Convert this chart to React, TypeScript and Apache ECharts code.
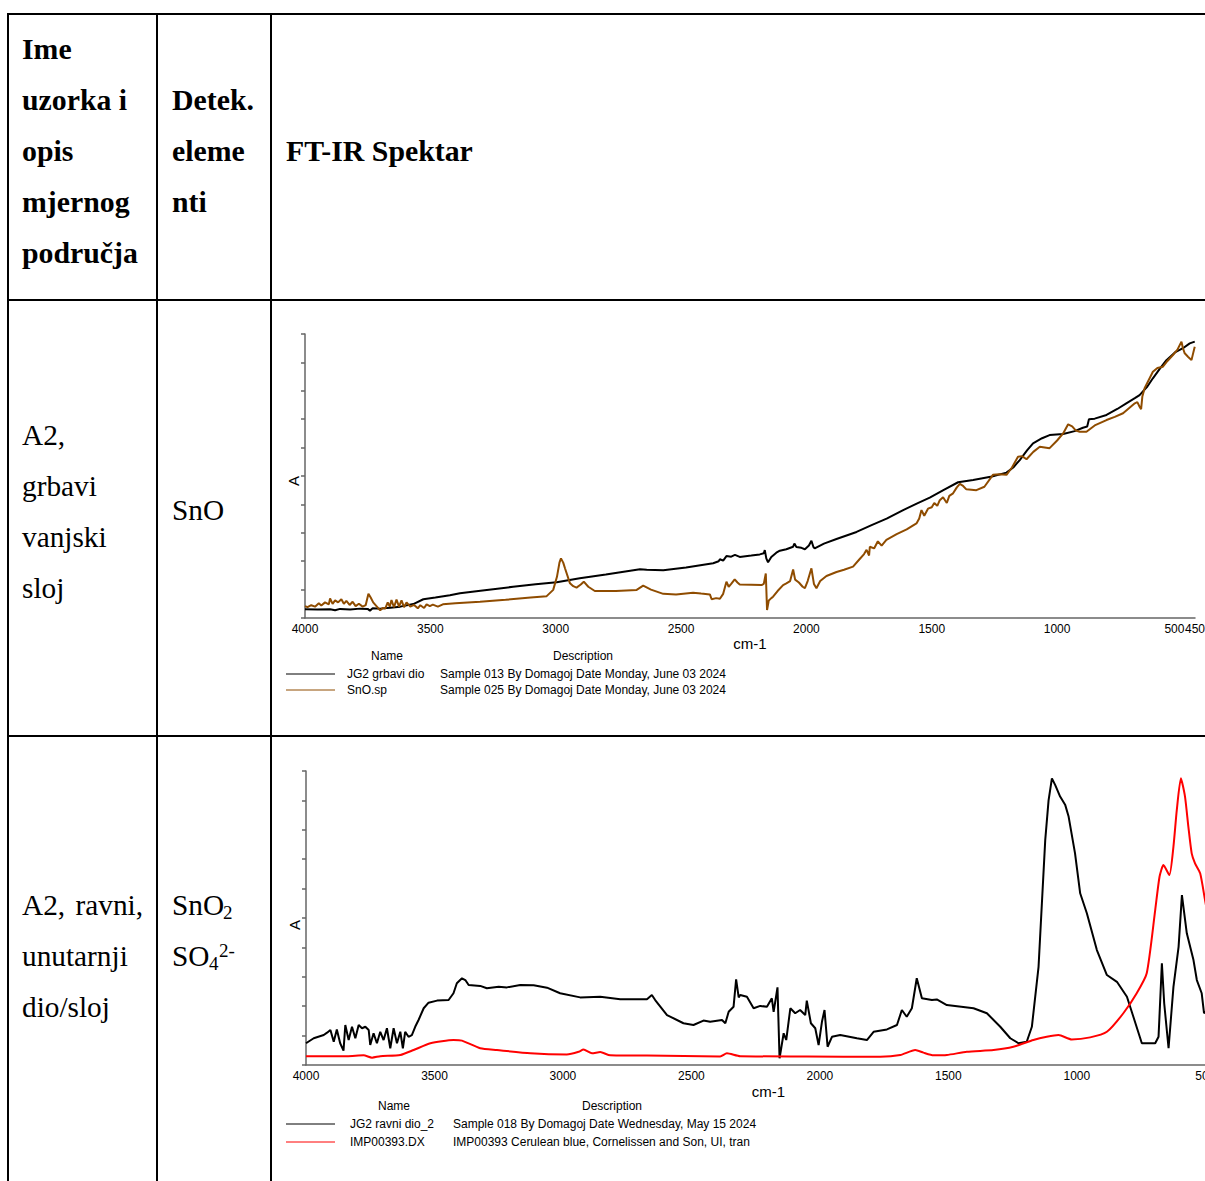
import React, { useEffect, useRef } from "react";
import * as echarts from "echarts";

// ---------------- data ----------------
const xTickValues1 = [4000, 3500, 3000, 2500, 2000, 1500, 1000, 500, 450];
const xTickValues2 = [4000, 3500, 3000, 2500, 2000, 1500, 1000, 500];

// chart 1 : JG2 grbavi dio (black)
const jg2GrbaviDio: [number, number][] = [
  [4000, 0.31], [3950, 0.3], [3900, 0.31], [3880, 0.27], [3860, 0.32], [3820, 0.3], [3780, 0.33], [3750, 0.32],
  [3741, 0.26], [3730, 0.34], [3700, 0.33], [3660, 0.36], [3620, 0.4], [3568, 0.49], [3528, 0.66], [3480, 0.72],
  [3422, 0.8], [3382, 0.87], [3300, 0.96], [3170, 1.1], [3080, 1.19], [2996, 1.26], [2904, 1.4], [2800, 1.53],
  [2664, 1.72], [2637, 1.7], [2571, 1.68], [2480, 1.78], [2372, 1.93], [2350, 2.0], [2345, 2.07], [2332, 2.02],
  [2319, 2.18], [2300, 2.16], [2285, 2.22], [2266, 2.15], [2220, 2.2], [2186, 2.24], [2170, 2.28], [2166, 2.39],
  [2160, 2.1], [2153, 1.96], [2140, 2.15], [2120, 2.3], [2106, 2.37], [2080, 2.42], [2053, 2.51], [2048, 2.62],
  [2040, 2.5], [2020, 2.47], [2006, 2.42], [1990, 2.55], [1980, 2.72], [1972, 2.5], [1967, 2.45], [1930, 2.62],
  [1880, 2.78], [1800, 3.03], [1740, 3.27], [1680, 3.5], [1614, 3.8], [1560, 4.03], [1508, 4.24], [1450, 4.52],
  [1395, 4.78], [1335, 4.86], [1260, 4.98], [1202, 5.12], [1175, 5.3], [1149, 5.56], [1120, 5.9], [1096, 6.15],
  [1060, 6.33], [1030, 6.44], [976, 6.48], [930, 6.58], [897, 6.7], [880, 6.74], [873, 7.0], [850, 7.02],
  [803, 7.15], [760, 7.36], [724, 7.56], [690, 7.74], [671, 7.85], [640, 8.15], [618, 8.44], [590, 8.78],
  [564, 9.08], [530, 9.35], [498, 9.5], [471, 9.67], [451, 9.73],
];

// chart 1 : SnO.sp (brown)
const snOsp: [number, number][] = [
  [4000, 0.42], [3990, 0.38], [3975, 0.45], [3960, 0.4], [3945, 0.52], [3935, 0.44], [3920, 0.55], [3905, 0.48],
  [3900, 0.69], [3890, 0.5], [3880, 0.62], [3868, 0.55], [3855, 0.66], [3845, 0.5], [3835, 0.6], [3822, 0.46],
  [3810, 0.57], [3798, 0.42], [3785, 0.5], [3770, 0.4], [3758, 0.45], [3747, 0.85], [3738, 0.72], [3728, 0.55],
  [3715, 0.42], [3700, 0.27], [3690, 0.35], [3680, 0.33], [3670, 0.55], [3662, 0.4], [3655, 0.63], [3645, 0.38],
  [3635, 0.65], [3625, 0.4], [3615, 0.62], [3605, 0.38], [3595, 0.55], [3580, 0.4], [3565, 0.46], [3550, 0.34],
  [3540, 0.45], [3525, 0.35], [3515, 0.48], [3502, 0.42], [3490, 0.47], [3470, 0.4], [3450, 0.48], [3400, 0.52],
  [3302, 0.57], [3200, 0.64], [3100, 0.72], [3036, 0.77], [3010, 0.99], [2995, 1.45], [2985, 1.95], [2979, 2.1],
  [2970, 1.95], [2963, 1.75], [2943, 1.22], [2930, 1.12], [2917, 1.07], [2900, 1.18], [2888, 1.28], [2870, 1.1],
  [2844, 0.95], [2760, 0.95], [2677, 0.99], [2651, 1.14], [2620, 1.0], [2571, 0.85], [2520, 0.83], [2452, 0.89],
  [2420, 0.86], [2385, 0.83], [2378, 0.66], [2360, 0.7], [2345, 0.68], [2332, 0.85], [2319, 1.28], [2310, 1.1],
  [2300, 1.2], [2286, 1.36], [2275, 1.25], [2266, 1.18], [2220, 1.17], [2179, 1.16], [2170, 1.2], [2162, 1.57],
  [2157, 0.28], [2150, 0.62], [2140, 0.7], [2133, 0.75], [2115, 0.95], [2093, 1.16], [2080, 1.22], [2065, 1.3],
  [2053, 1.71], [2045, 1.35], [2030, 1.25], [2015, 1.1], [2006, 1.05], [1995, 1.3], [1980, 1.75], [1970, 1.2],
  [1960, 1.05], [1945, 1.3], [1920, 1.48], [1880, 1.62], [1850, 1.7], [1814, 1.81], [1790, 2.05], [1770, 2.25],
  [1760, 2.4], [1750, 2.2], [1747, 2.51], [1730, 2.45], [1715, 2.7], [1700, 2.55], [1681, 2.75], [1640, 2.95],
  [1600, 3.12], [1561, 3.33], [1550, 3.5], [1541, 3.8], [1530, 3.6], [1515, 3.85], [1500, 3.9], [1490, 4.05],
  [1478, 3.95], [1468, 4.15], [1455, 4.25], [1440, 4.05], [1430, 4.3], [1415, 4.39], [1400, 4.6], [1388, 4.72],
  [1375, 4.65], [1362, 4.53], [1322, 4.5], [1290, 4.62], [1256, 5.04], [1230, 5.06], [1202, 5.04], [1180, 5.3],
  [1156, 5.68], [1140, 5.7], [1122, 5.59], [1095, 5.85], [1069, 6.03], [1030, 5.98], [1000, 6.25], [976, 6.5],
  [956, 6.82], [940, 6.75], [925, 6.6], [910, 6.56], [883, 6.56], [850, 6.78], [803, 6.97], [770, 7.08],
  [737, 7.21], [690, 7.56], [680, 7.6], [671, 7.44], [665, 7.35], [660, 7.8], [651, 8.09], [618, 8.67],
  [600, 8.8], [578, 8.85], [560, 9.05], [538, 9.26], [520, 9.45], [504, 9.73], [498, 9.5], [491, 9.32],
  [478, 9.2], [464, 9.08], [458, 9.3], [451, 9.55],
];

// chart 2 : JG2 ravni dio_2 (black)
const jg2RavniDio2: [number, number][] = [
  [4000, 0.74], [3970, 0.91], [3931, 1.02], [3918, 1.1], [3905, 1.19], [3892, 0.79], [3880, 1.21], [3867, 0.74],
  [3854, 0.49], [3847, 1.36], [3834, 0.85], [3821, 1.3], [3808, 0.91], [3795, 1.36], [3782, 1.25], [3769, 1.3],
  [3756, 1.19], [3750, 0.68], [3737, 1.08], [3724, 0.74], [3711, 1.13], [3698, 0.85], [3685, 1.25], [3672, 0.57],
  [3659, 1.25], [3646, 0.74], [3633, 1.13], [3623, 0.57], [3614, 1.13], [3601, 0.96], [3588, 1.02], [3575, 1.3],
  [3562, 1.53], [3542, 1.93], [3523, 2.12], [3490, 2.19], [3445, 2.21], [3426, 2.44], [3413, 2.78], [3393, 2.95],
  [3380, 2.89], [3367, 2.72], [3322, 2.69], [3296, 2.61], [3250, 2.66], [3218, 2.64], [3166, 2.72], [3114, 2.71],
  [3062, 2.63], [3011, 2.44], [2933, 2.3], [2855, 2.32], [2777, 2.24], [2673, 2.24], [2654, 2.38], [2641, 2.21],
  [2595, 1.7], [2531, 1.42], [2492, 1.36], [2453, 1.51], [2427, 1.47], [2381, 1.53], [2368, 1.42], [2355, 1.81],
  [2336, 1.98], [2326, 2.91], [2316, 2.3], [2310, 2.38], [2284, 2.32], [2258, 1.93], [2232, 2.01], [2206, 1.98],
  [2187, 2.27], [2180, 1.81], [2165, 2.64], [2157, 0.23], [2141, 1.08], [2131, 0.85], [2115, 1.93], [2096, 1.76],
  [2077, 1.87], [2057, 1.7], [2051, 2.19], [2035, 1.42], [2018, 1.25], [2005, 0.68], [1992, 1.47], [1982, 1.87],
  [1970, 0.62], [1953, 0.96], [1921, 1.02], [1856, 0.91], [1817, 0.85], [1791, 1.13], [1739, 1.21], [1700, 1.36],
  [1681, 1.87], [1662, 1.64], [1642, 1.93], [1623, 2.95], [1603, 2.27], [1564, 2.21], [1545, 2.23], [1506, 2.04],
  [1402, 1.93], [1350, 1.76], [1298, 1.3], [1259, 0.91], [1227, 0.74], [1195, 0.79], [1175, 1.3], [1149, 3.34],
  [1136, 5.5], [1123, 7.65], [1110, 9.0], [1097, 9.75], [1084, 9.52], [1065, 9.13], [1045, 8.84], [1032, 8.45],
  [1007, 7.2], [987, 5.84], [961, 5.16], [922, 3.91], [883, 3.06], [844, 2.83], [805, 2.32], [780, 1.64],
  [747, 0.74], [695, 0.74], [682, 0.96], [669, 3.46], [660, 2.1], [643, 0.57], [624, 2.66], [604, 4.02],
  [591, 5.78], [572, 4.48], [546, 3.57], [533, 2.89], [514, 2.44], [505, 1.76], [490, 1.9], [470, 1.6],
  [440, 1.7], [400, 1.5],
];

// chart 2 : IMP00393.DX (red)
const imp00393: [number, number][] = [
  [4000, 0.3], [3840, 0.3], [3776, 0.33], [3743, 0.25], [3711, 0.3], [3633, 0.34], [3581, 0.51], [3516, 0.74],
  [3426, 0.85], [3393, 0.83], [3322, 0.57], [3257, 0.51], [3127, 0.4], [2985, 0.36], [2939, 0.45], [2920, 0.53],
  [2887, 0.4], [2855, 0.44], [2816, 0.33], [2673, 0.32], [2388, 0.29], [2362, 0.4], [2310, 0.3], [2051, 0.29],
  [1765, 0.28], [1687, 0.34], [1629, 0.51], [1597, 0.42], [1558, 0.33], [1506, 0.34], [1428, 0.45], [1324, 0.51],
  [1247, 0.62], [1169, 0.85], [1117, 0.96], [1071, 1.02], [1020, 0.87], [948, 0.94], [883, 1.13], [819, 1.76],
  [767, 2.44], [728, 3.12], [695, 5.27], [678, 6.41], [663, 6.8], [640, 6.46], [624, 7.43], [611, 8.67],
  [595, 9.75], [579, 9.13], [566, 8.11], [553, 7.2], [540, 6.86], [520, 6.52], [501, 5.61], [480, 4.6],
  [450, 3.6], [420, 2.8], [400, 2.4],
];

const headerSample = ["Ime", "uzorka i", "opis", "mjernog", "područja"];
const headerElements = ["Detek.", "eleme", "nti"];
const headerSpectrum = "FT-IR Spektar";
const row1Sample = ["A2,", "grbavi", "vanjski", "sloj"];
const row1Element = "SnO";
const row2SampleFirst = ["A2,", "ravni,"];
const row2Sample = ["unutarnji", "dio/sloj"];

const legend1Names = ["JG2 grbavi dio", "SnO.sp"];
const legend1Descriptions = [
  "Sample 013 By Domagoj Date Monday, June 03 2024",
  "Sample 025 By Domagoj Date Monday, June 03 2024",
];
const legend2Names = ["JG2 ravni dio_2", "IMP00393.DX"];
const legend2Descriptions = [
  "Sample 018 By Domagoj Date Wednesday, May 15 2024",
  "IMP00393 Cerulean blue, Cornelissen and Son, UI, tran",
];
const colors1 = ["#000000", "#8f4c00"];
const colors2 = ["#000000", "#ff0000"];

// ---------------- styling ----------------
const SERIF = "'Liberation Serif', 'Times New Roman', serif";
const SANS = "'Liberation Sans', Arial, sans-serif";
const AXIS_COLOR = "#666666";

function txt(text: string, x: number, y: number, opts: any = {}) {
  return {
    type: "text",
    x,
    y,
    silent: true,
    style: {
      text,
      fill: "#000",
      fontSize: opts.size ?? (opts.bold ? 29.8 : 29.3),
      fontFamily: opts.family ?? SERIF,
      fontWeight: opts.bold ? "bold" : "normal",
      align: opts.align ?? "left",
      verticalAlign: "middle",
    },
  };
}

function line(x1: number, y1: number, x2: number, y2: number, stroke = "#000", lineWidth = 2) {
  return { type: "line", silent: true, shape: { x1, y1, x2, y2 }, style: { stroke, lineWidth } };
}

function legendBlock(
  names: string[],
  descs: string[],
  colors: string[],
  headerY: number,
  rowYs: number[],
  nameCenter: number,
  descCenter: number,
  nameX: number,
  descX: number
) {
  const els: any[] = [];
  els.push(txt("Name", nameCenter, headerY, { size: 12, family: SANS, align: "center" }));
  els.push(txt("Description", descCenter, headerY, { size: 12, family: SANS, align: "center" }));
  names.forEach((n, i) => {
    els.push(line(286, rowYs[i], 335, rowYs[i], colors[i], 1));
    els.push(txt(n, nameX, rowYs[i], { size: 12, family: SANS }));
    els.push(txt(descs[i], descX, rowYs[i], { size: 12, family: SANS }));
  });
  return els;
}

function makeXAxis(gridIndex: number, min: number, ticks: number[], nameGap: number) {
  return {
    gridIndex,
    type: "value",
    min,
    max: 4000,
    inverse: true,
    axisLine: { onZero: false, lineStyle: { color: AXIS_COLOR, width: 1.5 } },
    axisTick: { show: false },
    splitLine: { show: false },
    axisLabel: {
      customValues: ticks,
      margin: 5,
      color: "#000",
      fontSize: 12,
      fontFamily: SANS,
      formatter: (v: number) => (v === 500 && ticks.includes(450) ? "{l|500}" : String(v)),
      rich: { l: { fontSize: 12, fontFamily: SANS, color: "#000", padding: [0, 16, 0, 0] } },
    },
    name: "cm-1",
    nameLocation: "middle",
    nameGap,
    nameTextStyle: { fontSize: 15, color: "#000", fontFamily: SANS },
  };
}

function makeYAxis(gridIndex: number, shift: number) {
  return {
    gridIndex,
    type: "value",
    min: 0,
    max: 10,
    interval: 1,
    axisLine: { show: true, onZero: false, lineStyle: { color: AXIS_COLOR, width: 1.5 } },
    axisTick: { show: true, length: 4, lineStyle: { color: AXIS_COLOR, width: 1.5 } },
    axisLabel: { show: false },
    splitLine: { show: false },
    name: "A",
    nameLocation: "middle",
    nameRotate: 90,
    nameGap: 4,
    nameTextStyle: { fontSize: 15, color: "#000", fontFamily: SANS, padding: [0, shift, 0, 0] },
  };
}

export default function App() {
  const ref = useRef<HTMLDivElement>(null);

  useEffect(() => {
    if (!ref.current) return;
    const chart = echarts.init(ref.current, undefined, { renderer: "svg" });

    const graphics: any[] = [];
    // table grid lines
    graphics.push(line(7, 14, 1300, 14));
    graphics.push(line(7, 300, 1300, 300));
    graphics.push(line(7, 736, 1300, 736));
    graphics.push(line(8, 13, 8, 1300));
    graphics.push(line(157, 13, 157, 1300));
    graphics.push(line(271, 13, 271, 1300));

    // header
    headerSample.forEach((t, i) => graphics.push(txt(t, 22, 48 + 51 * i, { bold: true })));
    headerElements.forEach((t, i) => graphics.push(txt(t, 172, 99 + 51 * i, { bold: true })));
    graphics.push(txt(headerSpectrum, 286, 150, { bold: true }));

    // row 1
    row1Sample.forEach((t, i) => graphics.push(txt(t, 22, 435 + 51 * i)));
    graphics.push(txt(row1Element, 172, 510));

    // row 2
    graphics.push(txt(row2SampleFirst[0], 22, 905));
    graphics.push(txt(row2SampleFirst[1], 143, 905, { align: "right" }));
    row2Sample.forEach((t, i) => graphics.push(txt(t, 22, 956 + 51 * i)));
    graphics.push(txt("SnO", 172, 905));
    graphics.push(txt("2", 223, 912, { size: 19 }));
    graphics.push(txt("SO", 172, 956));
    graphics.push(txt("4", 209, 963, { size: 19 }));
    graphics.push(txt("2-", 219, 950, { size: 19 }));

    // legends
    graphics.push(...legendBlock(legend1Names, legend1Descriptions, colors1, 656, [674, 690], 387, 583, 347, 440));
    graphics.push(...legendBlock(legend2Names, legend2Descriptions, colors2, 1106, [1124, 1142], 394, 612, 350, 453));

    const mk = (name: string, data: [number, number][], color: string, idx: number, smooth: number | boolean = false) => ({
      type: "line",
      name,
      data,
      xAxisIndex: idx,
      yAxisIndex: idx,
      showSymbol: false,
      symbol: "none",
      smooth,
      silent: true,
      lineStyle: { color, width: 2 },
      itemStyle: { color },
    });

    chart.setOption({
      animation: false,
      backgroundColor: "#ffffff",
      textStyle: { fontFamily: SANS },
      grid: [
        { left: 305, top: 334, width: 890, height: 284 },
        { left: 306, top: 771, width: 925, height: 294 },
      ],
      xAxis: [makeXAxis(0, 450, xTickValues1, 16), makeXAxis(1, 400, xTickValues2, 19)],
      yAxis: [makeYAxis(0, 10), makeYAxis(1, 14)],
      series: [
        mk(legend1Names[0], jg2GrbaviDio, colors1[0], 0),
        mk(legend1Names[1], snOsp, colors1[1], 0),
        mk(legend2Names[0], jg2RavniDio2, colors2[0], 1),
        mk(legend2Names[1], imp00393, colors2[1], 1, 0.2),
      ],
      graphic: { elements: graphics },
    });

    return () => chart.dispose();
  }, []);

  return (
    <div
      style={{
        position: "fixed",
        left: 0,
        top: 0,
        width: 1205,
        height: 1181,
        overflow: "hidden",
        background: "#fff",
      }}
    >
      <div ref={ref} style={{ width: 1300, height: 1300 }} />
    </div>
  );
}
